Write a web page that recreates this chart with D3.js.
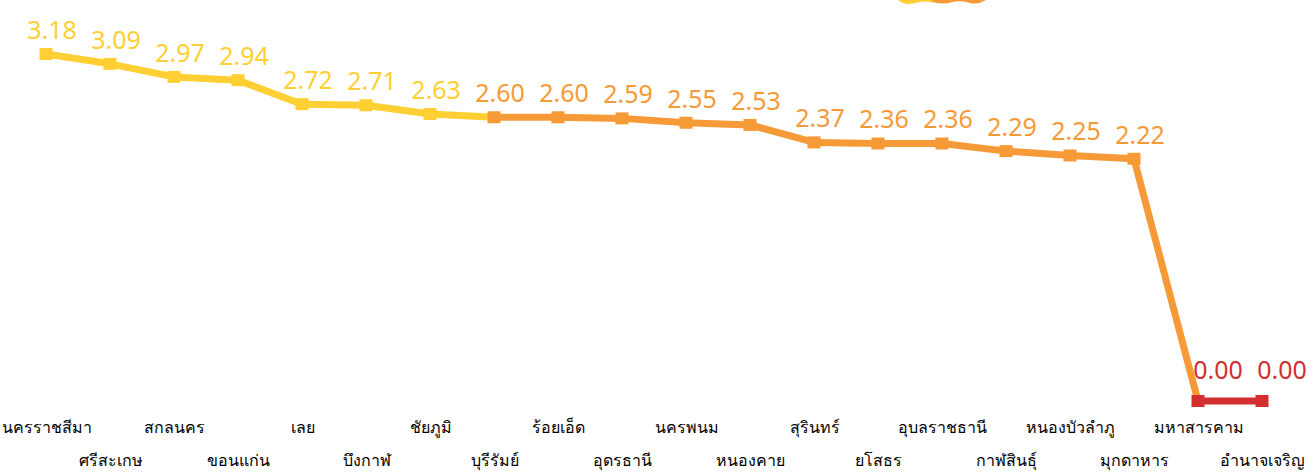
<!DOCTYPE html>
<html>
<head>
<meta charset="utf-8">
<script src="https://cdn.jsdelivr.net/npm/d3@7"></script>
<style>
  html, body { margin: 0; padding: 0; background: #fff; overflow: hidden; }
  svg { display: block; }
</style>
</head>
<body>
<svg id="chart" width="1313" height="474"></svg>
<script>
const provinces = ["นครราชสีมา","ศรีสะเกษ","สกลนคร","ขอนแก่น","เลย","บึงกาฬ","ชัยภูมิ","บุรีรัมย์","ร้อยเอ็ด","อุดรธานี","นครพนม","หนองคาย","สุรินทร์","ยโสธร","อุบลราชธานี","กาฬสินธุ์","หนองบัวลำภู","มุกดาหาร","มหาสารคาม","อำนาจเจริญ"];
const values = [3.18,3.09,2.97,2.94,2.72,2.71,2.63,2.60,2.60,2.59,2.55,2.53,2.37,2.36,2.36,2.29,2.25,2.22,0.00,0.00];
const levelColors = ["#ffcf33", "#f69a38", "#d32f30"];
const thresholds = [2.6, 0];

function colorOf(v) {
  if (v > thresholds[0]) return levelColors[0];
  if (v > thresholds[1]) return levelColors[1];
  return levelColors[2];
}

const svg = d3.select("#chart");
const x = d3.scalePoint().domain(provinces).range([46, 1262]);
const y = d3.scaleLinear().domain([0, 3.18]).range([401, 54]);

const data = provinces.map((p, i) => ({ p, v: values[i] }));

// decorative clipped legend at top
const deco = svg.append("g");
deco.append("path")
  .attr("d", "M898,0 Q905,6 915,3 Q925,0 935,3 L935,0 Z")
  .attr("fill", levelColors[0]);
deco.append("path")
  .attr("d", "M930,0 Q940,6 952,2 Q962,0 970,3 Q978,5 986,0 Z")
  .attr("fill", levelColors[1]);

// line segments, colored by start point
const segs = svg.append("g");
for (let i = 0; i < data.length - 1; i++) {
  segs.append("path")
    .datum([data[i], data[i + 1]])
    .attr("d", d3.line().x(d => x(d.p)).y(d => y(d.v)))
    .attr("fill", "none")
    .attr("stroke", colorOf(data[i].v))
    .attr("stroke-width", 7)
    .attr("stroke-linecap", "butt");
}

// markers
svg.append("g").selectAll("rect").data(data).join("rect")
  .attr("x", d => x(d.p) - 6.5)
  .attr("y", d => y(d.v) - 6)
  .attr("width", 13)
  .attr("height", 12)
  .attr("fill", d => colorOf(d.v));

// value labels
svg.append("g").selectAll("text").data(data).join("text")
  .attr("x", d => x(d.p) + (d.v === 0 ? 20 : 6))
  .attr("y", d => y(d.v) - (d.v === 0 ? 22 : 15))
  .attr("text-anchor", "middle")
  .attr("font-family", "Noto Sans, sans-serif")
  .attr("font-size", 25)
  .attr("fill", d => colorOf(d.v))
  .text(d => d.v.toFixed(2));

// x axis
const axis = svg.append("g")
  .attr("transform", "translate(0,418)")
  .call(d3.axisBottom(x).tickSize(0).tickPadding(0));
axis.select(".domain").remove();
axis.selectAll("text")
  .attr("font-family", "Noto Sans, sans-serif")
  .attr("font-size", 16)
  .attr("fill", "#000")
  .attr("dy", null)
  .attr("y", (d, i) => i % 2 === 0 ? 15 : 48);
</script>
</body>
</html>
